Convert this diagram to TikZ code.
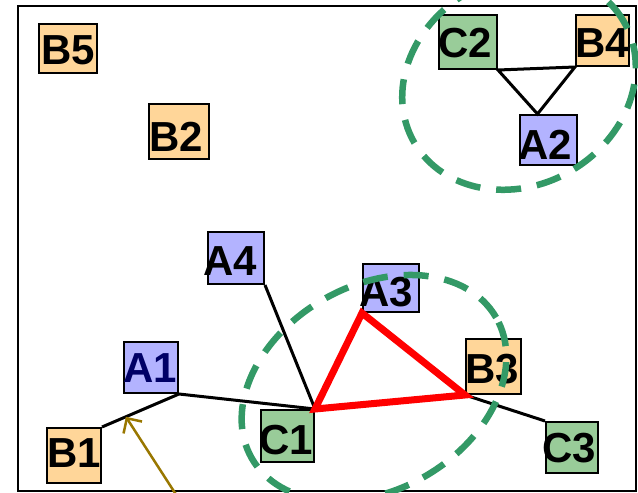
\documentclass[tikz,border=0pt]{standalone}
\usepackage{fontspec}
\setmainfont{Liberation Sans}
\usetikzlibrary{arrows.meta}
\definecolor{boxorange}{RGB}{255,214,153}
\definecolor{boxblue}{RGB}{179,179,255}
\definecolor{boxgreen}{RGB}{153,204,153}
\definecolor{ringgreen}{RGB}{51,153,102}
\definecolor{navytext}{RGB}{0,0,102}
\definecolor{pointer}{RGB}{153,119,0}
% shift a label inside its box: #1 = twice the x shift, #2 = raise
\newcommand{\nudge}[3]{\makebox[0pt]{\hspace*{#1}\hspace*{#1}\raisebox{#2}{#3}}}

\begin{document}
\begin{tikzpicture}[x=1pt,y=-1pt,
  site/.style={draw,line width=2pt,inner sep=0pt,minimum width=55pt,minimum height=51pt,
    text height=30pt,text depth=0pt,font=\fontsize{42}{42}\selectfont\bfseries},
  bsite/.style={site,fill=boxorange},
  asite/.style={site,fill=boxblue},
  csite/.style={site,fill=boxgreen},
  link/.style={line width=3pt},
  ring/.style={ringgreen,line width=6.5pt,dash pattern=on 25pt off 16pt}]
  \useasboundingbox (0,0) rectangle (638,493);
  \clip (0,0) rectangle (638,493);
  \draw[line width=2.2pt] (18,6) rectangle (636,491);

  % top group
  \node[bsite,minimum width=58pt,minimum height=49pt] (B5) at (68,48.5) {\nudge{0pt}{-1pt}{B5}};
  \node[bsite,minimum width=60pt,minimum height=55pt] (B2) at (179,131.5) {\nudge{-3pt}{-4.5pt}{B2}};
  \node[csite,minimum width=58pt,minimum height=54pt] (C2) at (468,42) {\nudge{-3pt}{0pt}{C2}};
  \node[bsite,minimum width=53pt] (B4) at (602.5,40.5) {\nudge{0pt}{-1.5pt}{B4}};
  \node[asite,minimum width=57pt,minimum height=50pt] (A2) at (548.5,140) {\nudge{-3pt}{-4pt}{A2}};

  % bottom group
  \node[asite,minimum width=56pt,minimum height=52pt] (A4) at (236,258) {\nudge{-6pt}{-2pt}{A4}};
  \node[asite,minimum width=56pt,minimum height=48pt] (A3) at (391,288) {\nudge{-5pt}{-3pt}{A3}};
  \node[asite,minimum width=54pt] (A1) at (151,367.5) {\nudge{-1pt}{0pt}{\color{navytext}A1}};
  \node[bsite,minimum height=55pt] (B3) at (493.5,366.5) {\nudge{-1.5pt}{-1.5pt}{B3}};
  \node[csite,minimum width=53pt,minimum height=52pt] (C1) at (287.5,436) {\nudge{-1.5pt}{-3pt}{C1}};
  \node[bsite,minimum width=54pt,minimum height=55pt] (B1) at (74,455.5) {\nudge{0pt}{3pt}{B1}};
  \node[csite,minimum width=52pt] (C3) at (572,447.5) {\nudge{-3pt}{0pt}{C3}};

  % links
  \draw[link] (C2.south east) -- (B4.south west) -- ([xshift=-11pt]A2.north) -- cycle;
  \draw[link] (B1.north east) -- (A1.south east) -- (C1.north east);
  \draw[link] (A4.south east) -- (C1.north east);
  \draw[link] (B3.south west) -- (C3.north west);
  \draw[red,line width=7pt] (C1.north east) -- (A3.south west) -- (B3.south west) -- cycle;

  % rings
  \draw[ring,rotate around={30:(519,82)}] (519,82) ellipse [x radius=121pt,y radius=103pt];
  \draw[ring,rotate around={30:(374,388)}] (374,388) ellipse [x radius=141pt,y radius=102pt];

  % pointer
  \path (B1.north east) -- (A1.south east) coordinate[pos=0.31] (hit);
  \coordinate (tail) at (186,510);
  \draw[pointer,line width=2.5pt,-{Straight Barb[length=11pt,width=22pt]}] (tail) -- (hit);
\end{tikzpicture}
\end{document}
